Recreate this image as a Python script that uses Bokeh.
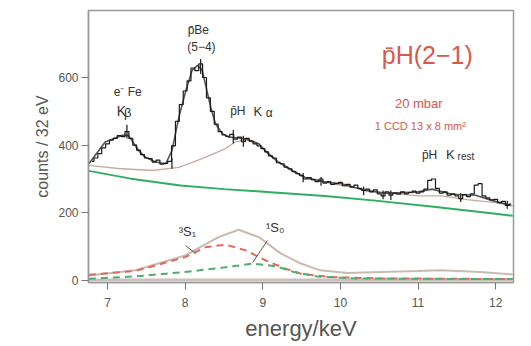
from bokeh.plotting import figure
from bokeh.models import Range1d, Label, FixedTicker
from bokeh.embed import file_html
from bokeh.resources import INLINE

# ---- data ----
bin_first_center = 6.80
bin_width = 0.05
hist_counts = [352, 362, 375, 392, 404, 415, 420, 428, 425, 440, 420, 400,
               385, 372, 362, 360, 350, 356, 344, 346, 352, 398, 470, 520,
               560, 590, 628, 620, 640, 600, 540, 500, 462, 440, 430, 426,
               432, 418, 424, 410, 420, 412, 404, 398, 390, 380, 368, 362,
               348, 345, 335, 330, 322, 316, 310, 300, 304, 298, 292, 300,
               288, 292, 284, 286, 290, 280, 284, 276, 282, 272, 266, 270,
               262, 268, 256, 250, 262, 252, 258, 255, 262, 256, 260, 264,
               258, 262, 270, 296, 300, 272, 258, 262, 252, 256, 250, 242,
               254, 248, 256, 282, 286, 250, 244, 238, 240, 230, 234, 222, 226]
hist_e = [round(bin_first_center + bin_width * i, 3) for i in range(len(hist_counts))]

err_e = [7.25, 7.83, 8.20, 8.62, 8.75, 9.52, 9.75, 10.30, 10.55, 10.65, 11.55, 12.15]
err_lo = [420, 330, 610, 405, 395, 290, 280, 252, 240, 238, 232, 212]
err_hi = [460, 362, 655, 445, 428, 318, 306, 278, 266, 266, 258, 236]

fit_e = [6.76, 6.97, 7.19, 7.27, 7.40, 7.49, 7.62, 7.75, 7.83, 7.92, 8.01, 8.09,
         8.16, 8.22, 8.26, 8.33, 8.39, 8.48, 8.56, 8.78, 8.95, 9.07, 9.20, 9.38,
         9.55, 9.81, 10.02, 10.32, 10.58, 10.97, 11.18, 11.44, 11.74, 11.96, 12.20]
fit_counts = [345, 409, 429, 429, 384, 364, 350, 345, 384, 483, 562, 621,
              636, 621, 581, 512, 463, 434, 424, 419, 404, 374, 350, 325,
              304, 291, 286, 266, 258, 261, 270, 255, 252, 236, 222]

bgline_e = [6.76, 7.30, 7.94, 8.50, 9.10, 9.80, 10.45, 11.20, 11.97, 12.22]
bgline_counts = [324, 301, 281, 270, 261, 250, 236, 218, 198, 191]

bgfit_e = [6.76, 7.14, 7.58, 7.92, 8.22, 8.52, 8.65, 8.78, 8.95, 9.20, 9.55,
           10.00, 10.50, 11.00, 11.30, 11.60, 12.00, 12.22]
bgfit_counts = [340, 331, 325, 334, 360, 390, 410, 416, 402, 352, 302,
                282, 262, 250, 250, 240, 230, 220]

sum_e = [6.76, 7.36, 8.00, 8.43, 8.69, 8.95, 9.23, 9.49, 9.74, 10.09, 10.52,
         11.00, 11.29, 11.80, 12.22]
sum_counts = [15, 30, 74, 128, 150, 128, 80, 50, 30, 22, 25, 28, 30, 25, 18]

s1_e = [6.76, 7.36, 8.00, 8.26, 8.52, 8.78, 9.04, 9.29, 9.49, 9.87, 10.50, 11.50, 12.22]
s1_counts = [17, 28, 69, 98, 106, 89, 59, 35, 20, 10, 6, 5, 4]

s0_e = [6.76, 7.36, 8.00, 8.52, 8.87, 9.17, 9.40, 9.70, 10.20, 11.00, 12.22]
s0_counts = [5, 12, 25, 39, 50, 42, 25, 12, 6, 5, 4]

base_e = [6.76, 10.0, 12.22]
base_counts = [2, 2, 2]

x_ticks = [7, 8, 9, 10, 11, 12]
y_ticks = [0, 200, 400, 600]

FONT = "Liberation Sans"
RED = "#d9594c"

p = figure(width=531, height=346, output_backend="svg", toolbar_location=None,
           x_range=Range1d(6.755, 12.23), y_range=Range1d(-6, 798),
           min_border_left=88, min_border_right=18, min_border_top=10,
           min_border_bottom=64)
p.grid.visible = False
p.outline_line_color = "#9a9a9a"
p.outline_line_width = 1.5
p.background_fill_color = "white"
p.border_fill_color = "white"

for ax in (p.xaxis[0], p.yaxis[0]):
    ax.axis_line_color = "#9a9a9a"
    ax.axis_line_width = 1.5
    ax.major_tick_line_color = "#777777"
    ax.minor_tick_line_color = None
    ax.major_tick_in = 0
    ax.major_tick_out = 7
    ax.major_label_text_font = FONT
    ax.major_label_text_color = "#555555"
    ax.major_label_text_font_size = "12px"
    ax.axis_label_text_font = FONT
    ax.axis_label_text_font_style = "normal"
    ax.axis_label_text_color = "#555555"

p.xaxis.ticker = FixedTicker(ticks=x_ticks)
p.yaxis.ticker = FixedTicker(ticks=y_ticks)
p.xaxis.major_label_standoff = 8
p.xaxis.axis_label = "energy/keV"
p.xaxis.axis_label_text_font_size = "22px"
p.xaxis.axis_label_standoff = 6
p.yaxis.major_label_standoff = 3
p.yaxis.axis_label = "counts / 32 eV"
p.yaxis.axis_label_text_font_size = "16px"
p.yaxis.axis_label_standoff = 4

# component curves
p.line(base_e, base_counts, line_color="#c9c0bb", line_width=2.5)
p.line(sum_e, sum_counts, line_color="#c9bab2", line_width=2)
p.line(s1_e, s1_counts, line_color="#e06a5c", line_width=2, line_dash="7 5")
p.line(s0_e, s0_counts, line_color="#4fae6f", line_width=2, line_dash="7 5")

# backgrounds
p.line(bgline_e, bgline_counts, line_color="#2fae62", line_width=2)
p.line(bgfit_e, bgfit_counts, line_color="#c8aaa0", line_width=1.3)

# spectrum
p.line(fit_e, fit_counts, line_color="#555555", line_width=1.6)
p.step(hist_e, hist_counts, mode="center", line_color="#1a1a1a", line_width=1.2)
p.segment(x0=err_e, y0=err_lo, x1=err_e, y1=err_hi, line_color="#1a1a1a", line_width=1.2)

# leader lines for component labels
p.segment(x0=[8.005, 9.06], y0=[103, 118], x1=[8.134, 8.87], y1=[80, 53],
          line_color="#555555", line_width=1)


def lab(x, y, text, size="12px", color="#333333", align="center"):
    p.add_layout(Label(x=x, y=y, text=text, text_font=FONT, text_font_size=size,
                       text_color=color, text_align=align, text_baseline="middle"))


lab(8.17, 739, "p\u0304Be")
lab(8.21, 689, "(5\u22124)")
lab(7.26, 556, "e\u207b Fe")
lab(7.12, 502, "K", size="14px", align="left")
lab(7.26, 496, "\u03b2", size="13px", align="center")
lab(8.58, 500, "p\u0304H", align="left")
lab(8.88, 500, "K", size="13px", align="left")
lab(9.04, 494, "\u03b1", size="12px", align="left")

lab(11.12, 665, "p\u0304H(2\u22121)", size="25px", color=RED)
lab(11.01, 523, "20 mbar", size="13px", color=RED)
lab(11.03, 458, "1 CCD 13 x 8 mm\u00b2", size="11px", color=RED)

lab(11.05, 372, "p\u0304H", align="left")
lab(11.36, 372, "K", size="13px", align="left")
lab(11.51, 365, "rest", size="10px", align="left")

lab(8.03, 145, "\u00b3S\u2081", size="13px")
lab(9.16, 158, "\u00b9S\u2080", size="13px")

open("out.html", "w").write(file_html(p, INLINE))
